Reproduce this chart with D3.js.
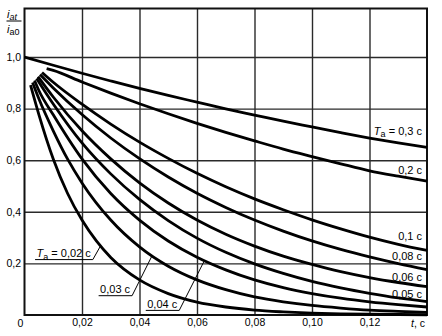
<!DOCTYPE html>
<html><head><meta charset="utf-8">
<script src="https://cdn.jsdelivr.net/npm/d3@7"></script>
<style>
body{margin:0;background:#fff;}
svg{display:block;font-family:"Liberation Sans",Arial,sans-serif;}
</style></head>
<body><svg id="c" width="442" height="336"></svg>
<script>
// tick values
const xTicks = [0.02, 0.04, 0.06, 0.08, 0.10, 0.12];
const yTicks = [0.2, 0.4, 0.6, 0.8, 1.0];
// series: [t, i_at/i_a0]
const ta030 = [[0,1],[0.01,0.968],[0.02,0.937],[0.03,0.907],[0.04,0.878],[0.05,0.851],[0.06,0.825],[0.07,0.799],[0.08,0.775],[0.09,0.751],[0.10,0.729],[0.11,0.707],[0.12,0.686],[0.13,0.667],[0.14,0.65]];
const ta020 = [[0.0077,0.955],[0.01,0.948],[0.02,0.903],[0.03,0.860],[0.04,0.819],[0.05,0.780],[0.06,0.743],[0.07,0.708],[0.08,0.675],[0.09,0.643],[0.10,0.614],[0.11,0.586],[0.12,0.559],[0.13,0.538],[0.14,0.519]];
const ta010 = [[0.0061,0.94],[0.01,0.902],[0.02,0.817],[0.03,0.740],[0.04,0.670],[0.05,0.607],[0.06,0.549],[0.07,0.497],[0.08,0.450],[0.09,0.408],[0.10,0.369],[0.11,0.334],[0.12,0.302],[0.13,0.274],[0.14,0.250]];
const ta008 = [[0.0054,0.932],[0.01,0.880],[0.02,0.777],[0.03,0.686],[0.04,0.606],[0.05,0.535],[0.06,0.472],[0.07,0.417],[0.08,0.368],[0.09,0.325],[0.10,0.287],[0.11,0.254],[0.12,0.225],[0.13,0.199],[0.14,0.176]];
const ta006 = [[0.0047,0.924],[0.01,0.845],[0.02,0.714],[0.03,0.605],[0.04,0.512],[0.05,0.434],[0.06,0.368],[0.07,0.313],[0.08,0.267],[0.09,0.228],[0.10,0.196],[0.11,0.168],[0.12,0.145],[0.13,0.126],[0.14,0.11]];
const ta005 = [[0.0042,0.917],[0.01,0.818],[0.02,0.667],[0.03,0.547],[0.04,0.448],[0.05,0.366],[0.06,0.298],[0.07,0.243],[0.08,0.198],[0.09,0.161],[0.10,0.130],[0.11,0.105],[0.12,0.084],[0.13,0.066],[0.14,0.052]];
const ta004 = [[0.0035,0.909],[0.005,0.87],[0.01,0.776],[0.02,0.605],[0.03,0.471],[0.04,0.368],[0.05,0.287],[0.06,0.224],[0.07,0.175],[0.08,0.136],[0.09,0.106],[0.10,0.083],[0.11,0.065],[0.12,0.051],[0.13,0.040],[0.14,0.031]];
const ta003 = [[0.0028,0.901],[0.005,0.838],[0.01,0.714],[0.015,0.604],[0.02,0.512],[0.03,0.368],[0.04,0.264],[0.05,0.189],[0.06,0.136],[0.07,0.098],[0.08,0.070],[0.09,0.051],[0.10,0.037],[0.11,0.027],[0.12,0.019],[0.13,0.014],[0.14,0.010]];
const ta002 = [[0.0021,0.891],[0.005,0.777],[0.01,0.605],[0.015,0.471],[0.02,0.368],[0.025,0.287],[0.03,0.223],[0.04,0.136],[0.05,0.083],[0.06,0.050],[0.07,0.031],[0.08,0.019],[0.09,0.012],[0.10,0.007],[0.11,0.004],[0.12,0.003],[0.14,0.001]];
const seriesList = [ta030, ta020, ta010, ta008, ta006, ta005, ta004, ta003, ta002];
// right-hand labels: [text value, label y-value, with "Ta ="]
const rightLabels = [["0,3 c",0.714,true],["0,2 c",0.562,false],["0,1 c",0.306,false],["0,08 c",0.229,false],["0,06 c",0.148,false],["0,05 c",0.081,false]];
// leader labels: [text, label t (left), label v, target t, target v, with "Ta ="]
const leaderLabels = [["0,02 c",0.0042,0.24,0.0263,0.265,true],["0,03 c",0.0263,0.1,0.0442,0.226,false],["0,04 c",0.0427,0.043,0.0624,0.207,false]];

const svg = d3.select("#c");
const x = d3.scaleLinear().domain([0,0.14]).range([24.5,427]);
const y = d3.scaleLinear().domain([0,1]).range([315,57]);
const topY = 8.5;
const fmt = d => d3.format(".2f")(d).replace(".", ",");
const fmtY = d => d3.format(".1f")(d).replace(".", ",");

// grid via axes
const gx = svg.append("g").attr("transform",`translate(0,${y(0)})`)
  .call(d3.axisBottom(x).tickValues(xTicks).tickSize(-(y(0)-topY)).tickPadding(4).tickFormat(fmt));
const gy = svg.append("g").attr("transform",`translate(${x(0)},0)`)
  .call(d3.axisLeft(y).tickValues(yTicks).tickSize(-(x(0.14)-x(0))).tickPadding(3.5).tickFormat(fmtY));
[gx,gy].forEach(g=>{
  g.select(".domain").remove();
  g.selectAll(".tick line").attr("stroke","#2a2a2a").attr("stroke-width",1.4);
  g.selectAll(".tick text").attr("fill","#000").style("font-size","10.5px").style("font-family","Liberation Sans, Arial, sans-serif");
});
// frame
svg.append("rect").attr("x",x(0)).attr("y",topY).attr("width",x(0.14)-x(0)).attr("height",y(0)-topY)
  .attr("fill","none").attr("stroke","#111").attr("stroke-width",2);

// zero label
svg.append("text").attr("x",x(0)-4).attr("y",y(0)+11.5).attr("text-anchor","middle").style("font-size","10.5px").text("0");
// x title
const xt = svg.append("text").attr("x",x(0.14)-2).attr("y",y(0)+11.5).attr("text-anchor","end").style("font-size","10.5px");
xt.append("tspan").style("font-style","italic").text("t");
xt.append("tspan").text(", c");

// y title fraction
const num = svg.append("text").attr("x",7).attr("y",17.5).style("font-size","11px");
num.append("tspan").style("font-style","italic").text("i");
num.append("tspan").style("font-style","italic").style("font-size","9px").attr("dy",2).text("at");
svg.append("line").attr("x1",6.5).attr("x2",21.5).attr("y1",21).attr("y2",21).attr("stroke","#000").attr("stroke-width",1);
const den = svg.append("text").attr("x",7).attr("y",33).style("font-size","11px");
den.append("tspan").style("font-style","italic").text("i");
den.append("tspan").style("font-size","9px").attr("dy",2).text("a0");

// curves
const line = d3.line().x(d=>x(d[0])).y(d=>y(d[1])).curve(d3.curveMonotoneX);
svg.append("g").selectAll("path").data(seriesList).join("path")
  .attr("d",line).attr("fill","none").attr("stroke","#000").attr("stroke-width",2.8);

function taLabel(sel, val, withTa){
  if(withTa){
    sel.append("tspan").style("font-style","italic").text("T");
    sel.append("tspan").style("font-size","9px").attr("dy",2.5).text("a");
    sel.append("tspan").attr("dy",-2.5).text(" = " + val);
  } else sel.text(val);
}
// right labels
rightLabels.forEach(([t,v,withTa])=>{
  const tx = svg.append("text").attr("x",x(0.14)-5).attr("y",y(v)+4).attr("text-anchor","end").style("font-size","11px");
  taLabel(tx,t,withTa);
});
// leader labels
leaderLabels.forEach(([t,lt,lv,tt,tv,withTa])=>{
  const tx = svg.append("text").attr("x",x(lt)).attr("y",y(lv)+4).style("font-size","11px");
  taLabel(tx,t,withTa);
  const w = tx.node().getComputedTextLength();
  const uy = y(lv)+6.5;
  svg.append("path").attr("d",`M${x(lt)-1.5},${uy}H${x(lt)+w+2}L${x(tt)},${y(tv)}`)
    .attr("fill","none").attr("stroke","#000").attr("stroke-width",1);
});
</script></body></html>
